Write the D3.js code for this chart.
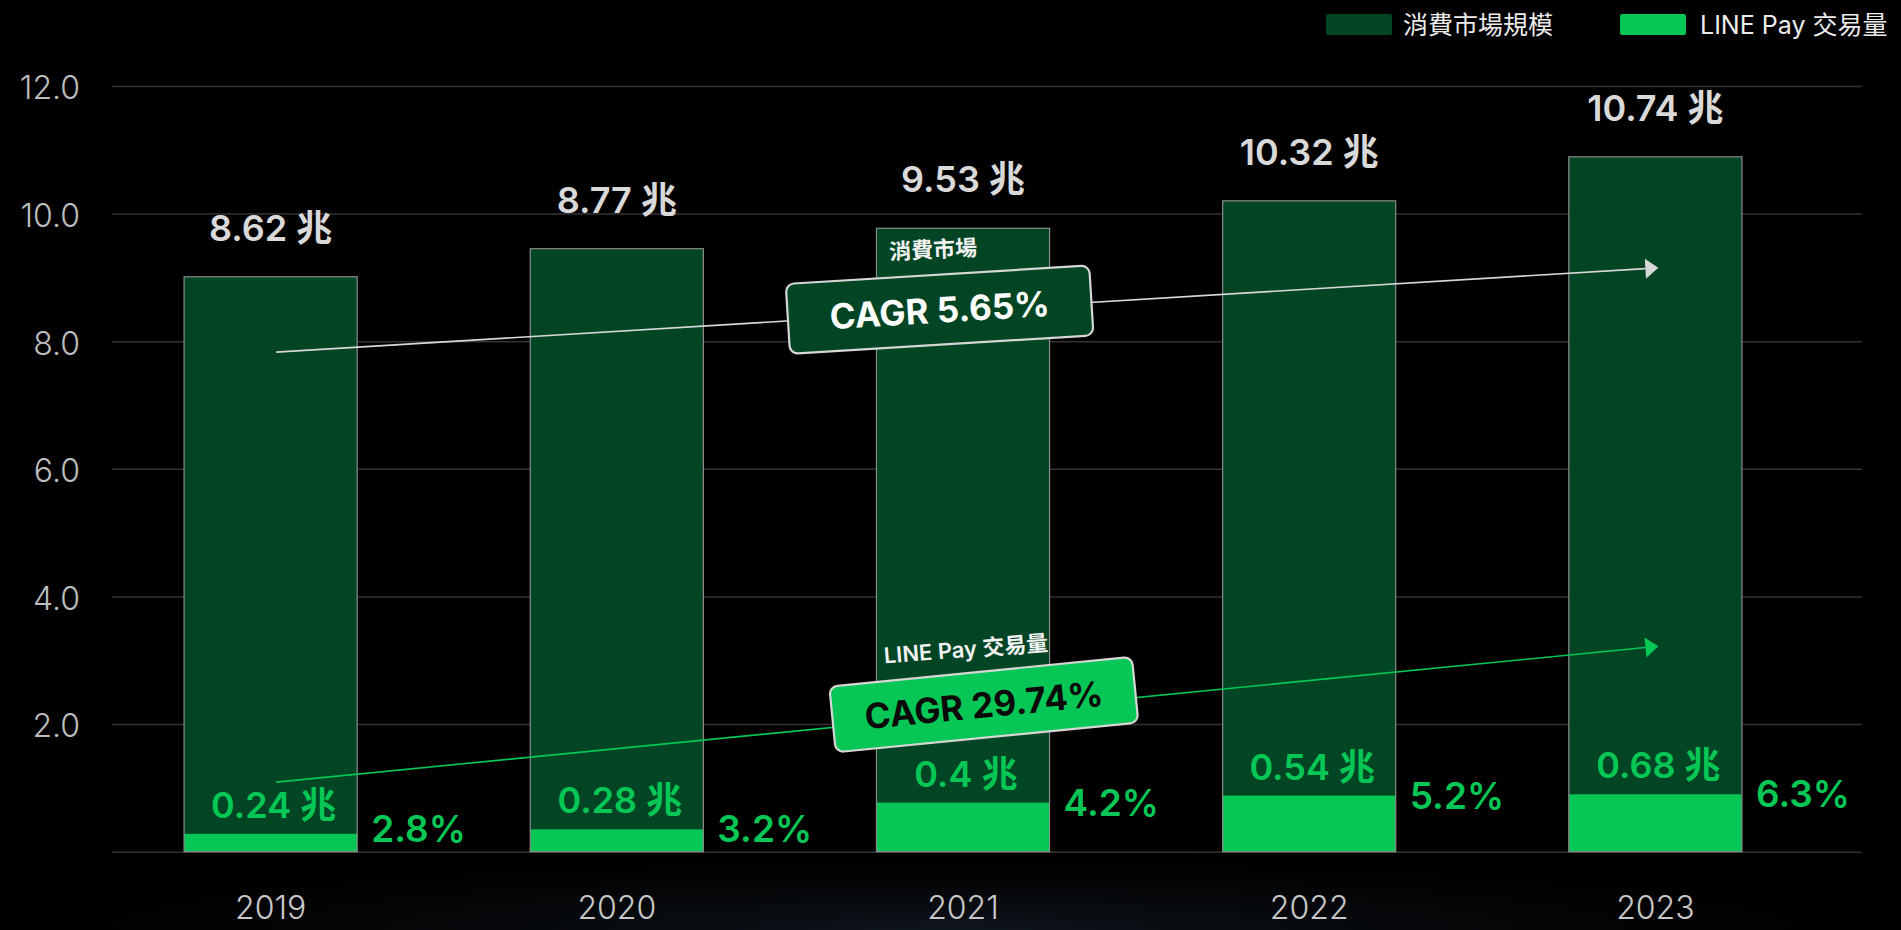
<!DOCTYPE html>
<html>
<head>
<meta charset="utf-8">
<script src="https://cdn.jsdelivr.net/npm/d3@7"></script>
<style>
html, body { margin: 0; padding: 0; background: #000; overflow: hidden; }
svg { display: block; }
text { font-family: Inter, "Noto Sans CJK TC", sans-serif; }
</style>
</head>
<body>
<script>
// data
var years = ["2019", "2020", "2021", "2022", "2023"];
var marketBar = [9.01, 9.45, 9.77, 10.2, 10.89];
var linePayBar = [0.28, 0.35, 0.77, 0.88, 0.9];
var marketLabels = ["8.62 兆", "8.77 兆", "9.53 兆", "10.32 兆", "10.74 兆"];
var linePayLabels = ["0.24 兆", "0.28 兆", "0.4 兆", "0.54 兆", "0.68 兆"];
var shareLabels = ["2.8%", "3.2%", "4.2%", "5.2%", "6.3%"];
var yTicks = [0, 2, 4, 6, 8, 10, 12];
var legendNames = ["消費市場規模", "LINE Pay 交易量"];
var cagrNames = ["消費市場", "LINE Pay 交易量"];
var cagrTexts = ["CAGR 5.65%", "CAGR 29.74%"];
var cagrFrom = [7.83, 1.09];
var cagrTo = [9.15, 3.22];

var width = 1901, height = 930;
var darkGreen = "#014524", lineGreen = "#06c755";

var svg = d3.select("body").append("svg")
    .attr("width", width)
    .attr("height", height);

// faint glow near the bottom
var defs = svg.append("defs");
var glow = defs.append("radialGradient").attr("id", "glow")
    .attr("cx", "50%").attr("cy", "100%").attr("r", "60%");
glow.append("stop").attr("offset", "0%").attr("stop-color", "#111821").attr("stop-opacity", 0.9);
glow.append("stop").attr("offset", "100%").attr("stop-color", "#000").attr("stop-opacity", 0);
svg.append("rect").attr("width", width).attr("height", height).attr("fill", "#000");
svg.append("rect").attr("x", 0).attr("y", 780).attr("width", width).attr("height", 150).attr("fill", "url(#glow)");

var xScale = d3.scaleBand().domain(years).range([11, 1915]).paddingInner(0.5).paddingOuter(0.5);
var yScale = d3.scaleLinear().domain([0, 12]).range([851.7, 86]);
var gridLeft = 112, gridRight = 1862;

// y axis with gridlines
var yAxis = d3.axisLeft(yScale)
    .tickValues(yTicks)
    .tickSize(-(gridRight - gridLeft))
    .tickPadding(32)
    .tickFormat(function(d) { return d === 0 ? "" : d3.format(".1f")(d); });

var gy = svg.append("g")
    .attr("transform", "translate(" + gridLeft + ",0)")
    .call(yAxis);
gy.select(".domain").remove();
gy.selectAll("line").attr("stroke", "#333").attr("stroke-width", 1.5);
gy.selectAll("text")
    .attr("fill", "#bdbdbd")
    .attr("font-size", "32px")
    .attr("font-weight", 300)
    .attr("dy", "0.4em");

// x axis labels
var xAxis = d3.axisBottom(xScale).tickSize(0).tickPadding(45);
var gx = svg.append("g")
    .attr("transform", "translate(0," + yScale(0) + ")")
    .call(xAxis);
gx.select(".domain").remove();
gx.selectAll("text")
    .attr("fill", "#c8c8c8")
    .attr("font-size", "32px")
    .attr("font-weight", 300);

var bw = xScale.bandwidth();
var rows = years.map(function(y, i) {
    return { year: y, market: marketBar[i], pay: linePayBar[i],
             mLabel: marketLabels[i], pLabel: linePayLabels[i], share: shareLabels[i] };
});

// market bars
svg.selectAll(".marketBar")
    .data(rows)
    .enter()
    .append("rect")
    .attr("class", "marketBar")
    .attr("x", function(d) { return xScale(d.year); })
    .attr("y", function(d) { return yScale(d.market); })
    .attr("width", bw)
    .attr("height", function(d) { return yScale(0) - yScale(d.market); })
    .attr("fill", darkGreen);

// LINE Pay bars
svg.selectAll(".payBar")
    .data(rows)
    .enter()
    .append("rect")
    .attr("class", "payBar")
    .attr("x", function(d) { return xScale(d.year); })
    .attr("y", function(d) { return yScale(d.pay); })
    .attr("width", bw)
    .attr("height", function(d) { return yScale(0) - yScale(d.pay); })
    .attr("fill", lineGreen);

// thin outline round each bar
svg.selectAll(".barOutline")
    .data(rows)
    .enter()
    .append("rect")
    .attr("class", "barOutline")
    .attr("x", function(d) { return xScale(d.year); })
    .attr("y", function(d) { return yScale(d.market); })
    .attr("width", bw)
    .attr("height", function(d) { return yScale(0) - yScale(d.market); })
    .attr("fill", "none")
    .attr("stroke", "#8c8c8c")
    .attr("stroke-width", 1.2);

// market value labels
svg.selectAll(".mLabel")
    .data(rows)
    .enter()
    .append("text")
    .attr("x", function(d) { return xScale(d.year) + bw / 2; })
    .attr("y", function(d) { return yScale(d.market) - 36; })
    .attr("text-anchor", "middle")
    .attr("font-size", "36px")
    .attr("font-weight", 600)
    .attr("fill", "#d9d9d9")
    .text(function(d) { return d.mLabel; });

// LINE Pay value labels
svg.selectAll(".pLabel")
    .data(rows)
    .enter()
    .append("text")
    .attr("x", function(d) { return xScale(d.year) + bw / 2 + 3; })
    .attr("y", function(d) { return yScale(d.pay) - 16; })
    .attr("text-anchor", "middle")
    .attr("font-size", "36px")
    .attr("font-weight", 600)
    .attr("fill", lineGreen)
    .text(function(d) { return d.pLabel; });

// share labels right of bars
svg.selectAll(".share")
    .data(rows)
    .enter()
    .append("text")
    .attr("x", function(d) { return xScale(d.year) + bw + 14; })
    .attr("y", function(d) { return Math.min(yScale(d.pay) + 13, yScale(0) - 10); })
    .attr("font-size", "37px")
    .attr("font-weight", 600)
    .attr("fill", lineGreen)
    .text(function(d) { return d.share; });

// CAGR arrows + boxes
var noteStyle = [
    { color: "#d8d8d8", fill: darkGreen, textColor: "#fff", t: 0.48, dy: -2, h: 70, lx: 13, ly: -50 },
    { color: lineGreen, fill: lineGreen, textColor: "#0a0a0a", t: 0.512, dy: -8, h: 66, lx: 8, ly: -41 }
];

cagrTexts.forEach(function(txt, i) {
    var st = noteStyle[i];
    var x1 = xScale(years[0]) + bw / 2 + 5.5, y1 = yScale(cagrFrom[i]);
    var x2 = xScale(years[4]) + bw / 2 + 3, y2 = yScale(cagrTo[i]);
    var ang = Math.atan2(y2 - y1, x2 - x1);
    var deg = ang * 180 / Math.PI;
    var headLen = 13, headW = 10;
    var bx = x2 - headLen * Math.cos(ang), by = y2 - headLen * Math.sin(ang);

    svg.append("line")
        .attr("x1", x1).attr("y1", y1)
        .attr("x2", bx).attr("y2", by)
        .attr("stroke", st.color)
        .attr("stroke-width", 1.6);

    var nx = -Math.sin(ang), ny = Math.cos(ang);
    svg.append("polygon")
        .attr("points", [
            [x2, y2],
            [bx + nx * headW, by + ny * headW],
            [bx - nx * headW, by - ny * headW]
        ].map(function(p) { return p.join(","); }).join(" "))
        .attr("fill", st.color);

    var cx = x1 + (x2 - x1) * st.t, cy = y1 + (y2 - y1) * st.t + st.dy;
    var box = svg.append("g")
        .attr("transform", "translate(" + cx + "," + cy + ") rotate(" + deg + ")");
    box.append("rect")
        .attr("x", -152).attr("y", -st.h / 2)
        .attr("width", 304).attr("height", st.h)
        .attr("rx", 8)
        .attr("fill", st.fill)
        .attr("stroke", "#d6d6d6")
        .attr("stroke-width", 2.2);
    box.append("text")
        .attr("x", 0).attr("y", 13)
        .attr("text-anchor", "middle")
        .attr("font-size", "35px")
        .attr("font-weight", 700)
        .attr("fill", st.textColor)
        .text(txt);

    // small caption inside the 2021 bar
    var lx = xScale(years[2]) + st.lx, ly = cy + st.ly;
    svg.append("text")
        .attr("transform", "translate(" + lx + "," + ly + ") rotate(" + (deg * 0.8) + ")")
        .attr("font-size", "22px")
        .attr("font-weight", 600)
        .attr("fill", "#f2f2f2")
        .text(cagrNames[i]);
});

// legend
var legendX = [1326, 1620];
var legendColors = [darkGreen, lineGreen];
var legend = svg.selectAll(".legend")
    .data(legendNames)
    .enter()
    .append("g")
    .attr("transform", function(d, i) { return "translate(" + legendX[i] + ",14)"; });
legend.append("rect")
    .attr("width", 66).attr("height", 21).attr("rx", 2)
    .attr("fill", function(d, i) { return legendColors[i]; });
legend.append("text")
    .attr("x", function(d, i) { return i === 0 ? 77 : 80; })
    .attr("y", 20)
    .attr("font-size", "25px")
    .attr("fill", "#ececec")
    .text(function(d) { return d; });
</script>
</body>
</html>
